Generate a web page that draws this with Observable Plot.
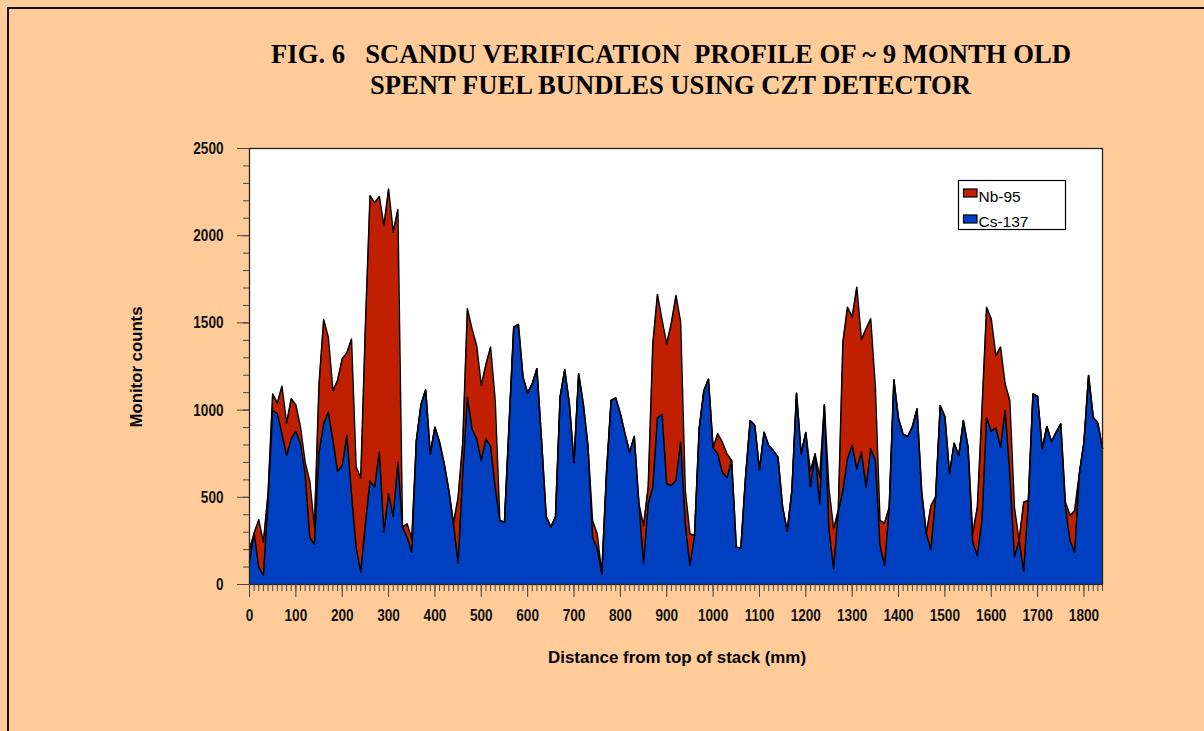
<!DOCTYPE html>
<html><head><meta charset="utf-8">
<script src="https://cdn.jsdelivr.net/npm/d3@7"></script>
<script src="https://cdn.jsdelivr.net/npm/@observablehq/plot@0.6"></script>
<style>
html,body{margin:0;padding:0;background:#FFCC99;width:1204px;height:731px;overflow:hidden;}
#frame{position:absolute;left:7px;top:7px;width:1300px;height:800px;border-left:2px solid #111;border-top:2px solid #111;}
#chart{position:absolute;left:0;top:0;}
#overlay{position:absolute;left:0;top:0;pointer-events:none;}
</style></head><body>
<div id="frame"></div>
<div id="chart"></div>
<svg id="overlay" width="1204" height="731"></svg>
<script>
// Distance from top of stack (mm), sampled every 10 mm
const distance = d3.range(0, 1841, 10);
// Cs-137 counts (bottom layer)
const cs137 = [
  130,294,99,52,480,998,979,864,740,835,
  879,807,635,271,229,759,921,988,826,648,
  682,854,520,214,71,348,593,558,759,300,
  520,390,701,329,271,185,826,1032,1116,749,
  902,816,692,539,348,122,635,1074,893,835,
  711,835,791,558,367,357,921,1476,1491,1189,
  1097,1151,1237,826,390,329,386,1074,1231,1036,
  698,1208,1036,797,271,205,61,635,1055,1070,
  979,864,759,849,463,119,463,558,956,975,
  577,568,596,816,348,109,281,893,1109,1177,
  784,749,644,612,711,214,210,615,940,912,
  657,873,797,768,730,443,306,539,1097,749,
  872,560,749,463,1030,310,90,415,539,721,
  797,663,759,558,778,711,224,109,443,1174,
  950,860,849,906,1007,529,291,199,501,1026,
  963,635,810,740,940,787,243,166,367,956,
  879,898,787,998,635,157,252,75,472,1093,
  1078,778,906,820,873,921,443,252,185,635,
  816,1199,959,925,780
];
// Nb-95 counts (stacked on top of Cs-137)
const nb95 = [
  70,0,272,191,40,95,61,273,185,230,
  151,95,66,321,100,391,597,430,286,522,
  612,474,887,459,541,1135,1637,1630,1466,1758,
  1748,1630,1449,0,77,77,0,0,0,0,
  0,0,0,0,0,378,181,507,573,535,
  430,427,570,497,0,0,0,0,0,0,
  0,0,0,0,0,0,0,0,0,0,
  0,0,0,0,96,86,0,0,0,0,
  0,0,0,0,0,219,95,822,707,539,
  803,932,1061,688,191,182,0,0,0,0,
  0,115,172,137,0,0,0,0,0,0,
  0,0,0,0,0,0,0,0,0,0,
  0,90,0,152,0,239,229,9,851,869,
  736,1042,644,908,745,421,143,243,0,0,
  0,0,0,0,0,0,0,254,0,0,
  0,0,0,0,0,0,48,277,633,634,
  644,415,574,153,420,286,0,397,10,0,
  0,0,0,0,0,0,29,144,239,0,
  0,0,0,0,0
];
const yTicks = [0, 500, 1000, 1500, 2000, 2500];
const xTicks = [0,100,200,300,400,500,600,700,800,900,1000,1100,1200,1300,1400,1500,1600,1700,1800];
const seriesNames = ["Nb-95", "Cs-137"];
const RED = "#C02000", BLUE = "#0040C0";

const data = distance.map((d, i) => ({d, cs: cs137[i], total: cs137[i] + nb95[i]}));

const plot = Plot.plot({
  width: 1204, height: 731,
  marginLeft: 249, marginRight: 102, marginTop: 148, marginBottom: 147,
  style: {background: "transparent", fontFamily: "'Liberation Sans', Arial, sans-serif", fontSize: "17px", fontWeight: "bold", color: "#111"},
  x: {domain: [0, 1840]},
  y: {domain: [0, 2500]},
  marks: [
    Plot.frame({fill: "white", stroke: null}),
    Plot.areaY(data, {x: "d", y1: 0, y2: "total", fill: RED}),
    Plot.areaY(data, {x: "d", y1: 0, y2: "cs", fill: BLUE}),
    Plot.lineY(data, {x: "d", y: "total", stroke: "#000", strokeWidth: 1.5}),
    Plot.lineY(data, {x: "d", y: "cs", stroke: "#000", strokeWidth: 1.5}),
    Plot.frame({stroke: "#222", strokeWidth: 1.3}),
    Plot.axisY(d3.range(0, 2501, 100), {tickSize: 6, text: null, label: null, stroke: "#444"}),
    Plot.axisY(yTicks, {tickSize: 12, tickPadding: 14, label: null, stroke: "#444", fill: "#111", tickFormat: d => String(d)}),
    Plot.axisX(d3.range(0, 1841, 10), {tickSize: 7, text: null, label: null, stroke: "#444"}),
    Plot.axisX(xTicks, {tickSize: 13, tickPadding: 11, label: null, stroke: "#444", fill: "#111", tickFormat: d => String(d)})
  ]
});
document.getElementById("chart").appendChild(plot);

// narrow the tick labels like the original condensed font
plot.querySelectorAll('g[aria-label$="tick label"] text').forEach(t => {
  const tr = t.getAttribute("transform");
  if (tr) t.setAttribute("transform", tr + " scale(0.8,1)");
});

// Overlay texts: title, axis titles, legend
const ov = d3.select("#overlay");
const serif = "'Liberation Serif', 'Times New Roman', serif";
const sans = "'Liberation Sans', Arial, sans-serif";
ov.append("text").attr("x", 271).attr("y", 63).attr("textLength", 800).attr("lengthAdjust", "spacingAndGlyphs")
  .style("white-space", "pre").attr("font-family", serif).attr("font-weight", "bold").attr("font-size", 27).attr("fill", "#000")
  .text("FIG. 6   SCANDU VERIFICATION  PROFILE OF ~ 9 MONTH OLD");
ov.append("text").attr("x", 370).attr("y", 94).attr("textLength", 601).attr("lengthAdjust", "spacingAndGlyphs")
  .style("white-space", "pre").attr("font-family", serif).attr("font-weight", "bold").attr("font-size", 27).attr("fill", "#000")
  .text("SPENT FUEL BUNDLES USING CZT DETECTOR");
ov.append("text").attr("transform", "translate(142,367) rotate(-90)").attr("text-anchor", "middle")
  .attr("textLength", 121).attr("lengthAdjust", "spacingAndGlyphs")
  .attr("font-family", sans).attr("font-weight", "bold").attr("font-size", 16).attr("fill", "#000")
  .text("Monitor counts");
ov.append("text").attr("x", 677).attr("y", 663).attr("text-anchor", "middle")
  .attr("textLength", 258).attr("lengthAdjust", "spacingAndGlyphs")
  .attr("font-family", sans).attr("font-weight", "bold").attr("font-size", 17).attr("fill", "#000")
  .text("Distance from top of stack (mm)");

const lg = ov.append("g");
lg.append("rect").attr("x", 958.5).attr("y", 180.5).attr("width", 107).attr("height", 49)
  .attr("fill", "white").attr("stroke", "#000").attr("stroke-width", 1.2);
[[RED, 189, 202], [BLUE, 215, 226.5]].forEach(([c, ry, ty], i) => {
  lg.append("rect").attr("x", 963.5).attr("y", ry).attr("width", 13.5).attr("height", 8)
    .attr("fill", c).attr("stroke", "#000").attr("stroke-width", 1.2);
  lg.append("text").attr("x", 978.5).attr("y", ty).attr("font-family", sans).attr("font-size", 15.5).attr("fill", "#000")
    .text(seriesNames[i]);
});
</script>
</body></html>
